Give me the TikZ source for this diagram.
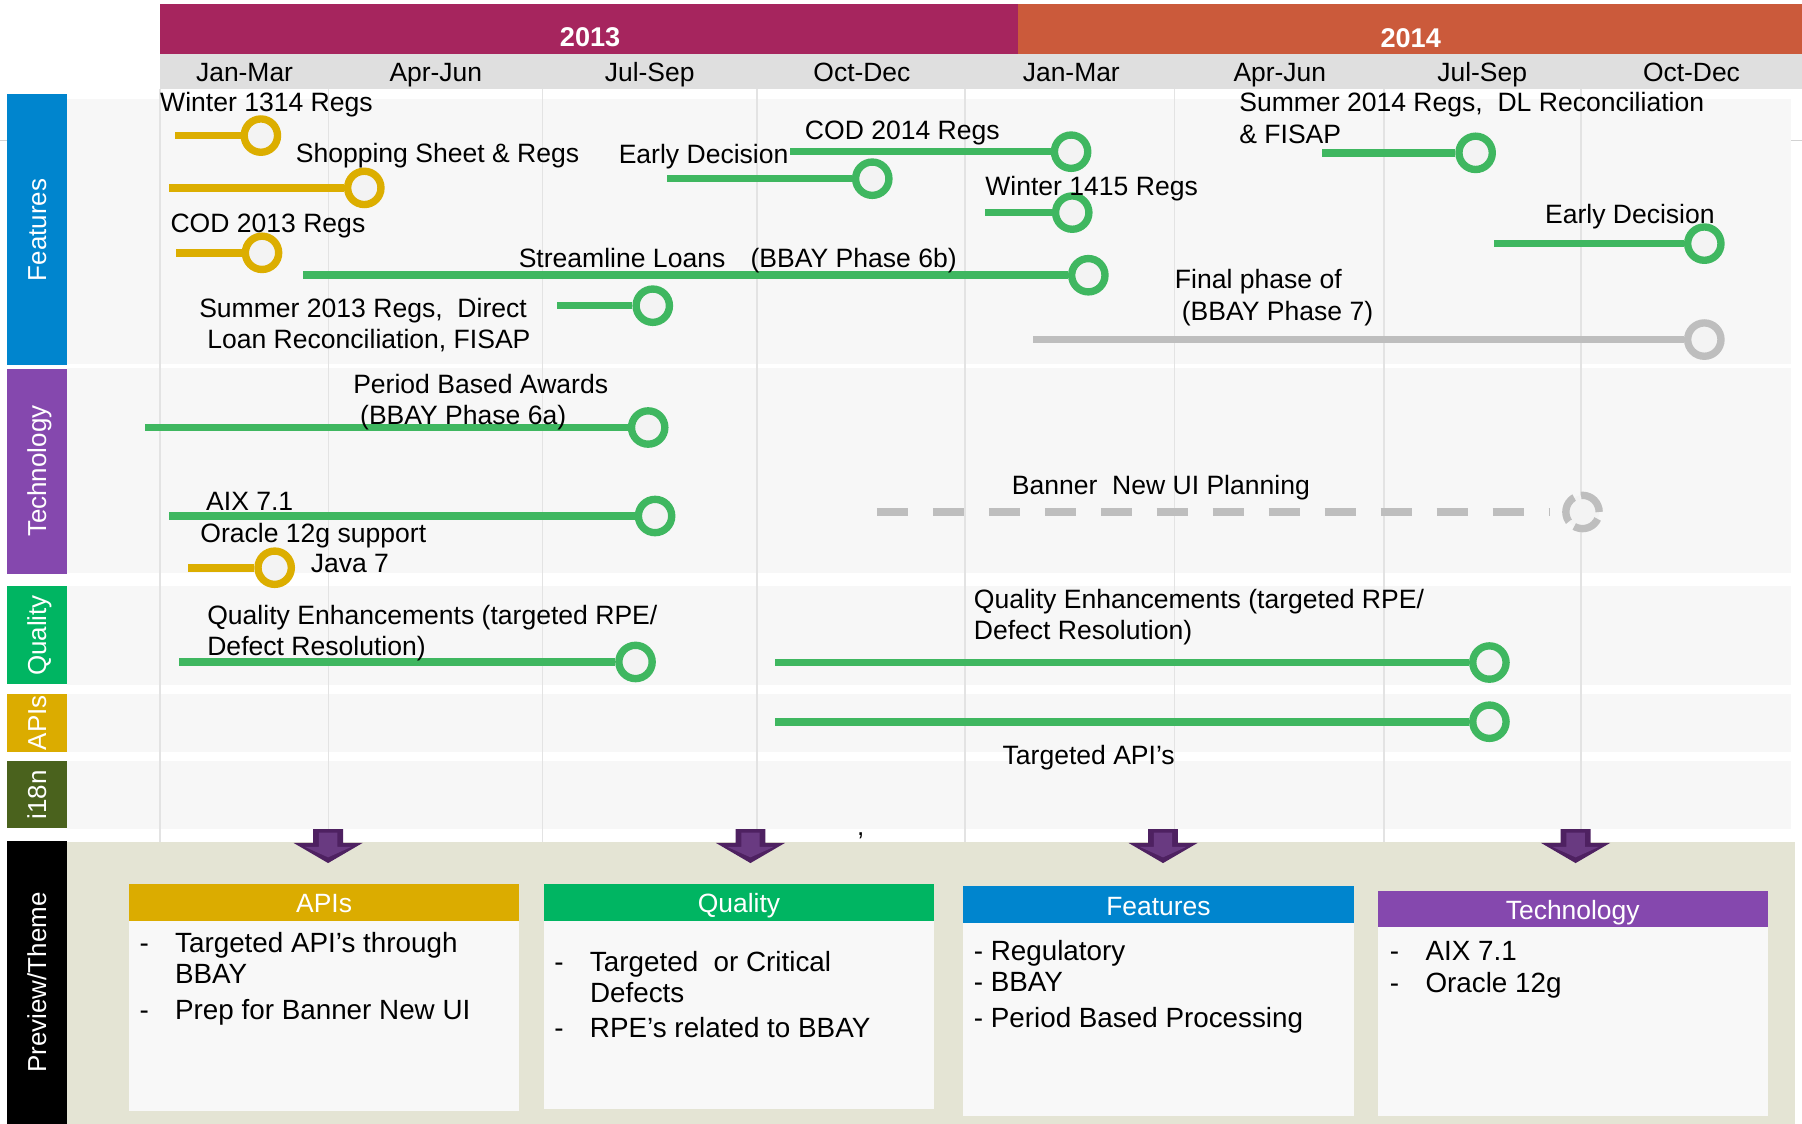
\documentclass[tikz,border=0pt]{standalone}
\usepackage{fontspec}
\setmainfont{Liberation Sans}
\definecolor{yearA}{HTML}{A6255E}
\definecolor{yearB}{HTML}{CB5A3B}
\definecolor{monthbar}{HTML}{DFDFDF}
\definecolor{band}{HTML}{F7F7F7}
\definecolor{gridc}{HTML}{E3E3E3}
\definecolor{featblue}{HTML}{0085CE}
\definecolor{techpurple}{HTML}{8548AE}
\definecolor{qualgreen}{HTML}{00B562}
\definecolor{apigold}{HTML}{DBAC00}
\definecolor{intlgreen}{HTML}{4A621D}
\definecolor{evgreen}{HTML}{3FB760}
\definecolor{evyellow}{HTML}{DCAE00}
\definecolor{evgray}{HTML}{BEBEBE}
\definecolor{ringfill}{HTML}{F3F3F3}
\definecolor{beige}{HTML}{E4E4D4}
\definecolor{boxbody}{HTML}{F8F8F8}
\definecolor{arrowdark}{HTML}{4E2161}
\definecolor{arrowlight}{HTML}{693A81}
\newcommand\itdash{\makebox[15.5pt][l]{-}}

\begin{document}
\begin{tikzpicture}[x=0.5pt,y=-0.5pt,
    lbl/.style={anchor=north west,inner sep=0pt,align=left,
      font=\fontsize{11.55}{13.75}\selectfont},
    ms/.style={circle,draw=#1,line width=3.2pt,fill=ringfill,
      minimum size=14.5pt,inner sep=0pt},
    bar/.style={draw=#1,line width=3.3pt},
    side/.style={rotate=90,text=white,inner sep=0pt,text height=8.1pt,
      text depth=0pt,font=\fontsize{11.3}{13}\selectfont},
    month/.style={anchor=base,inner sep=0pt,font=\fontsize{11.5}{13}\selectfont},
    head/.style={text=white,inner sep=0pt,text height=8.2pt,text depth=0pt,
      font=\fontsize{11.5}{13}\selectfont},
    itm/.style={anchor=north west,inner sep=0pt,align=left,
      font=\fontsize{12.1}{13.6}\selectfont}]
  \useasboundingbox (0,0) rectangle (1568,978);
  \draw[evgray!70,line width=0.5pt] (0,122) -- (1568,122);

  % years and quarters
  \fill[yearA] (139,3.5) rectangle (885.5,47);
  \fill[yearB] (885.5,3.5) rectangle (1568,47);
  \fill[monthbar] (139,47) rectangle (1568,77.5);
  \node[text=white,inner sep=0pt,font=\bfseries\fontsize{11.8}{13}\selectfont] (y2013) at (513.5,32) {2013};
  \node[text=white,inner sep=0pt,font=\bfseries\fontsize{11.8}{13}\selectfont] (y2014) at (1227.5,33.5) {2014};
  \foreach \x/\m [count=\i] in {212.8/Jan-Mar,379.2/Apr-Jun,565.3/Jul-Sep,750/Oct-Dec,
      932.2/Jan-Mar,1113.6/Apr-Jun,1289.7/Jul-Sep,1471.8/Oct-Dec}
    \node[month] (q\i) at (\x,71) {\m};

  % rows
  \fill[band] (58,86) rectangle (1558,317);
  \fill[band] (58,320.5) rectangle (1558,499);
  \fill[band] (58,510) rectangle (1558,596);
  \fill[band] (58,604) rectangle (1558,654.5);
  \fill[band] (58,662) rectangle (1558,721.5);
  \fill[beige] (58,733) rectangle (1562,978);
  \foreach \x in {139.4,285.8,472.1,658.5,839.8,1022,1204,1375.6}
    \draw[gridc,line width=0.8pt] (\x,77.5) -- (\x,733);

  \fill[featblue] (6,82) rectangle (58,318);
  \node[side] (featlab) at (32,200) {Features};
  \fill[techpurple] (6,321) rectangle (58,499.5);
  \node[side] (techlab) at (32,410) {Technology};
  \fill[qualgreen] (6,510) rectangle (58,595.5);
  \node[side] (quallab) at (32,553) {Quality};
  \fill[apigold] (6,604) rectangle (58,654.5);
  \node[side] (apilab) at (32,629) {APIs};
  \fill[intlgreen] (6,662.5) rectangle (58,720.5);
  \node[side] (intllab) at (32,691.5) {i18n};
  \fill[black] (6,732) rectangle (58,978);
  \node[side] (prevlab) at (32,855) {Preview/Theme};

  % milestones
  \node[ms=evyellow] (e1) at (227,118) {};
  \draw[bar=evyellow] (e1) -- ++(-75,0);
  \node[ms=evyellow] (e2) at (317,163.5) {};
  \draw[bar=evyellow] (e2) -- ++(-170,0);
  \node[ms=evyellow] (e3) at (228,220) {};
  \draw[bar=evyellow] (e3) -- ++(-75,0);
  \node[ms=evgreen] (e4) at (947,239.5) {};
  \draw[bar=evgreen] (e4) -- ++(-683,0);
  \node[ms=evgreen] (e5) at (568,266) {};
  \draw[bar=evgreen] (e5) -- ++(-83,0);
  \node[ms=evgreen] (e6) at (759,155.5) {};
  \draw[bar=evgreen] (e6) -- ++(-179,0);
  \node[ms=evgreen] (e7) at (932,132) {};
  \draw[bar=evgreen] (e7) -- ++(-245,0);
  \node[ms=evgreen] (e8) at (933,185) {};
  \draw[bar=evgreen] (e8) -- ++(-76,0);
  \node[ms=evgreen] (e9) at (1284,133) {};
  \draw[bar=evgreen] (e9) -- ++(-134,0);
  \node[ms=evgreen] (e10) at (1483,212) {};
  \draw[bar=evgreen] (e10) -- ++(-183,0);
  \node[ms=evgray] (e11) at (1483,295.5) {};
  \draw[bar=evgray] (e11) -- ++(-584,0);
  \node[ms=evgreen] (e12) at (564,372) {};
  \draw[bar=evgreen] (e12) -- ++(-438,0);
  \node[ms=evgreen] (e13) at (570,449) {};
  \draw[bar=evgreen] (e13) -- ++(-423,0);
  \node[ms=evyellow] (e14) at (239,494) {};
  \draw[bar=evyellow] (e14) -- ++(-75,0);
  \node[ms=evgray,dash pattern=on 12pt off 3.18pt] (e15) at (1377,445.5) {};
  \draw[bar=evgray,dash pattern=on 13.75pt off 10.6pt] (763,445.5) -- ([xshift=-5.5pt]e15.west);
  \node[ms=evgreen] (e16) at (553,576) {};
  \draw[bar=evgreen] (e16) -- ++(-397,0);
  \node[ms=evgreen] (e17) at (1296,576.5) {};
  \draw[bar=evgreen] (e17) -- ++(-622,0);
  \node[ms=evgreen] (e18) at (1296,628) {};
  \draw[bar=evgreen] (e18) -- ++(-622,0);

  \node[lbl] (t1) at (139,80) {Winter 1314 Regs};
  \node[lbl] (t2) at (257,124) {Shopping Sheet \& Regs};
  \node[lbl] (t3) at (148,186) {COD 2013 Regs};
  \node[lbl] (t4) at (451,216) {Streamline Loans\hspace{0.95em}(BBAY Phase 6b)};
  \node[lbl] (t5) at (173,259) {Summer 2013 Regs,\ \ Direct\\\hspace*{3.5pt}Loan Reconciliation, FISAP};
  \node[lbl] (t6) at (538,125) {Early Decision};
  \node[lbl] (t7) at (700,105) {COD 2014 Regs};
  \node[lbl] (t8) at (857,153) {Winter 1415 Regs};
  \node[lbl] (t9) at (1078,80) {Summer 2014 Regs,\ \ DL Reconciliation\\\& FISAP};
  \node[lbl] (t10) at (1344,177) {Early Decision};
  \node[lbl] (t11) at (1022,234) {Final phase of\\\hspace*{3pt}(BBAY Phase 7)};
  \node[lbl] (t12) at (307,325) {Period Based Awards\\\hspace*{3pt}(BBAY Phase 6a)};
  \node[lbl] (t13) at (174,428) {\hspace*{2.5pt}AIX 7.1\\Oracle 12g support};
  \node[lbl] (t14) at (270,482) {Java 7};
  \node[lbl] (t15) at (880,413) {Banner\ \ New UI Planning};
  \node[lbl] (t16) at (180,526) {Quality Enhancements (targeted RPE/\\Defect Resolution)};
  \node[lbl] (t17) at (847,512) {Quality Enhancements (targeted RPE/\\Defect Resolution)};
  \node[lbl] (t18) at (872,648) {Targeted API’s};
  \node[anchor=base,inner sep=0pt,font=\fontsize{11.3}{13}\selectfont] (comma) at (749,727) {,};

  % themes
  \foreach \x in {285.5,653,1012,1371} {
    \fill[arrowdark] (\x-13,721.5) -- (\x+13,721.5) -- (\x+13,733.5) -- (\x+30,733.5)
      -- (\x,751) -- (\x-30,733.5) -- (\x-13,733.5) -- cycle;
    \fill[arrowlight] (\x-8,724.5) -- (\x+8,724.5) -- (\x+8,737) -- (\x+20,737)
      -- (\x,746) -- (\x-20,737) -- (\x-8,737) -- cycle;
  }
  \fill[boxbody] (112.5,801) rectangle (452,966.5);
  \fill[apigold] (112.5,769.5) rectangle (452,801);
  \node[head] (apihead) at (282,786) {APIs};
  \node[itm] (apitxt) at (121,811) {\itdash Targeted API’s through\\\hspace*{15.5pt}BBAY\\[1.75pt]\itdash Prep for Banner New UI};

  \fill[boxbody] (473.5,801) rectangle (813,965);
  \fill[qualgreen] (473.5,769.5) rectangle (813,801);
  \node[head] (qualhead) at (643,786) {Quality};
  \node[itm] (qualtxt) at (482,827) {\itdash Targeted\ \ or Critical\\\hspace*{15.5pt}Defects\\[1.5pt]\itdash RPE’s related to BBAY};

  \fill[boxbody] (838,803) rectangle (1178,971);
  \fill[featblue] (838,771) rectangle (1178,803);
  \node[head] (feathead) at (1008,788) {Features};
  \node[itm] (feattxt) at (847,818) {- Regulatory\\- BBAY\\[1.75pt]- Period Based Processing};

  \fill[boxbody] (1199,807) rectangle (1538,971);
  \fill[techpurple] (1199,775) rectangle (1538,807);
  \node[head] (techhead) at (1368.5,792) {Technology};
  \node[itm] (techtxt) at (1209,819) {\itdash AIX 7.1\\\itdash Oracle 12g};
\end{tikzpicture}
\end{document}
